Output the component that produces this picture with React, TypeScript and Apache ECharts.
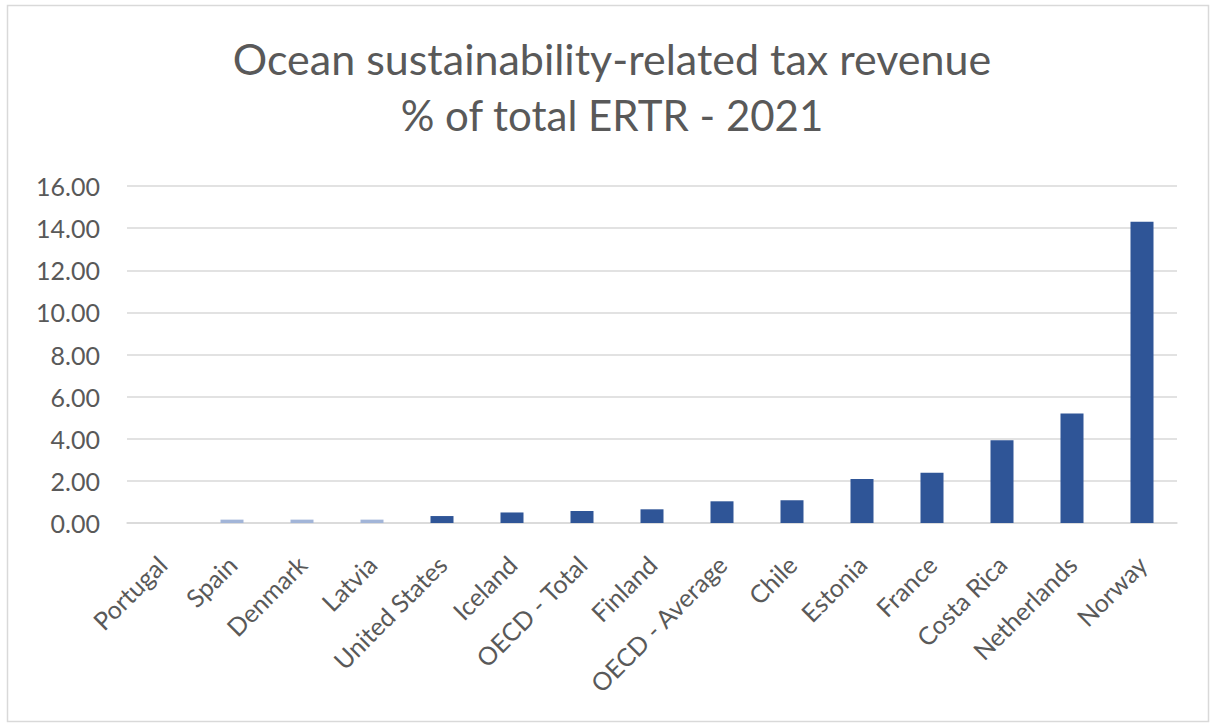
import React, { useEffect, useRef } from "react";
import * as echarts from "echarts";

const categories = [
  "Portugal",
  "Spain",
  "Denmark",
  "Latvia",
  "United States",
  "Iceland",
  "OECD - Total",
  "Finland",
  "OECD - Average",
  "Chile",
  "Estonia",
  "France",
  "Costa Rica",
  "Netherlands",
  "Norway",
];
const values = [0.0, 0.16, 0.16, 0.16, 0.33, 0.5, 0.57, 0.65, 1.03, 1.08, 2.09, 2.38, 3.93, 5.2, 14.3];
const lightCategories = ["Portugal", "Spain", "Denmark", "Latvia"];
const yTicks = [0, 2, 4, 6, 8, 10, 12, 14, 16];
const titleLines = ["Ocean sustainability-related tax revenue", "% of total ERTR - 2021"];

const DARK = "#2F5597";
const LIGHT = "#A2B5D8";
const TEXT = "#595959";
const FONT = "Lato, 'Open Sans', sans-serif";

export default function App() {
  const ref = useRef<HTMLDivElement>(null);
  useEffect(() => {
    if (!ref.current) return;
    const chart = echarts.init(ref.current, undefined, { renderer: "svg" });
    chart.setOption({
      animation: false,
      backgroundColor: "#ffffff",
      graphic: [
        {
          type: "rect",
          shape: { x: 7.5, y: 5.5, width: 1201, height: 716 },
          style: { fill: "none", stroke: "#D9D9D9", lineWidth: 1.5 },
          silent: true,
        },
        ...titleLines.map((t, i) => ({
          type: "text",
          x: 612,
          y: 37 + i * 56,
          silent: true,
          style: {
            text: t,
            fontFamily: FONT,
            fontSize: i === 0 ? 43 : 42,
            fontWeight: "normal",
            fill: TEXT,
            lineHeight: 43,
            align: "center",
            verticalAlign: "top",
          },
        })),
      ],
      grid: { left: 127, right: 33, top: 186, bottom: 201, containLabel: false },
      xAxis: {
        type: "category",
        data: categories,
        axisLine: { show: true, lineStyle: { color: "#D9D9D9", width: 1.5 } },
        axisTick: { show: false },
        axisLabel: {
          rotate: 45,
          interval: 0,
          margin: 37,
          fontFamily: FONT,
          fontSize: 25,
          color: TEXT,
        },
      },
      yAxis: {
        type: "value",
        min: 0,
        max: yTicks[yTicks.length - 1],
        interval: 2,
        axisLine: { show: false },
        axisTick: { show: false },
        splitLine: { lineStyle: { color: "#D9D9D9", width: 1.5 } },
        axisLabel: {
          margin: 27,
          fontFamily: FONT,
          fontSize: 25,
          color: TEXT,
          formatter: (v: number) => v.toFixed(2),
        },
      },
      series: [
        {
          type: "bar",
          barWidth: 23,
          data: values.map((v, i) => ({
            value: v,
            itemStyle: { color: lightCategories.includes(categories[i]) ? LIGHT : DARK },
          })),
        },
      ],
    });
    return () => chart.dispose();
  }, []);
  return (
    <div
      ref={ref}
      style={{ position: "fixed", left: 0, top: 0, width: 1210, height: 724 }}
    />
  );
}
